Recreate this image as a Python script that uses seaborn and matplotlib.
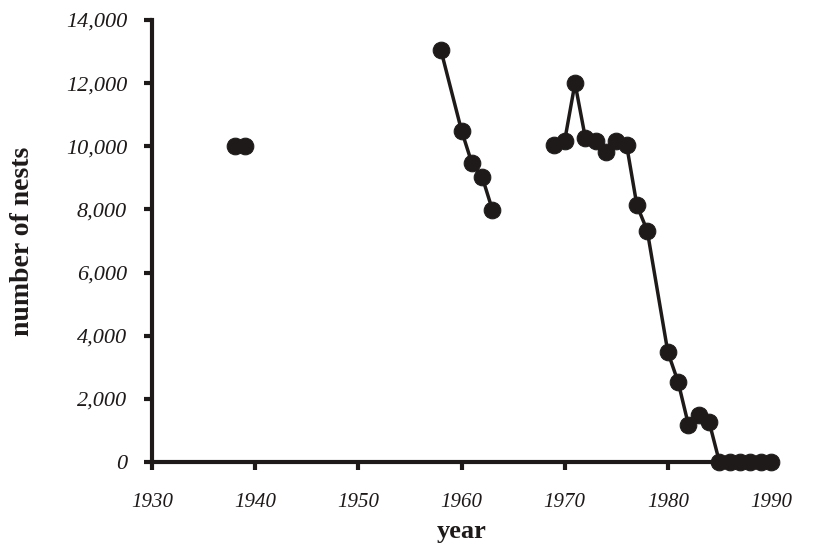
import pandas as pd
import numpy as np
import seaborn as sns
import matplotlib.pyplot as plt

# veriler
years_a = [1938, 1939]
nests_a = [10000, 10000]

years_b = [1958, 1960, 1961, 1962, 1963]
nests_b = [13050, 10500, 9470, 9030, 7980]

years_c = [1969, 1970, 1971, 1972, 1973, 1974, 1975, 1976, 1977, 1978,
           1980, 1981, 1982, 1983, 1984, 1985, 1986, 1987, 1988, 1989, 1990]
nests_c = [10030, 10180, 12000, 10270, 10180, 9820, 10180, 10040, 8130, 7330,
           3480, 2530, 1170, 1500, 1270, 0, 0, 0, 0, 0, 0]

x_ticks = [1930, 1940, 1950, 1960, 1970, 1980, 1990]
y_ticks = [0, 2000, 4000, 6000, 8000, 10000, 12000, 14000]

df = pd.concat([
    pd.DataFrame({"year": years_a, "nests": nests_a, "seg": "a"}),
    pd.DataFrame({"year": years_b, "nests": nests_b, "seg": "b"}),
    pd.DataFrame({"year": years_c, "nests": nests_c, "seg": "c"}),
])

sns.set_style("ticks")
plt.rcParams['font.family'] = ['Liberation Serif', 'DejaVu Serif']

fig = plt.figure(figsize=(8.24, 5.5), dpi=100)
ax = fig.add_axes([0.1845, 0.16, 0.7512, 0.8036])

col = "#1e1a1a"
sns.lineplot(data=df, x="year", y="nests", units="seg", estimator=None,
             color=col, lw=2.5, marker="o", markersize=12,
             markeredgecolor=col, ax=ax, clip_on=False, zorder=3)

ax.set_xlim(1930, 1990)
ax.set_ylim(0, 14000)
ax.set_xticks(x_ticks)
ax.set_yticks(y_ticks)
ax.set_xticklabels([str(v) for v in x_ticks], fontstyle="italic", fontsize=15)
ax.set_yticklabels([f"{v:,}" for v in y_ticks], fontstyle="italic", fontsize=16)

sns.despine(ax=ax)
for s in ["left", "bottom"]:
    ax.spines[s].set_linewidth(3)
    ax.spines[s].set_color(col)
ax.tick_params(axis="both", width=3, length=6, color=col, labelcolor=col)
ax.tick_params(axis="x", pad=16)
ax.tick_params(axis="y", pad=12)

ax.set_xlabel("year", fontsize=19, fontweight="bold", color=col, labelpad=6)
ax.set_ylabel("number of nests", fontsize=20, fontweight="bold", color=col, labelpad=22)

fig.savefig("out.png", dpi=100)
